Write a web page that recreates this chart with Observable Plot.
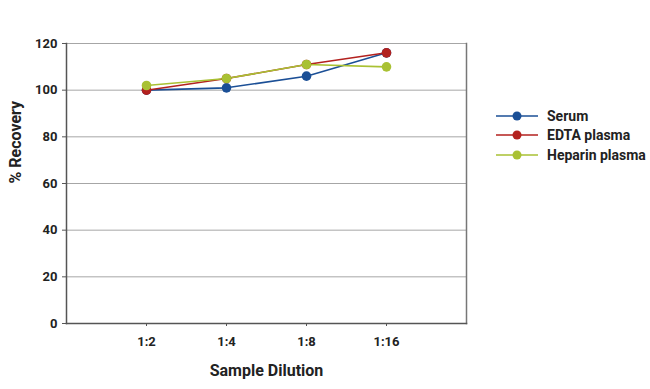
<!DOCTYPE html>
<html>
<head>
<meta charset="utf-8">
<script src="https://cdn.jsdelivr.net/npm/d3@7"></script>
<script src="https://cdn.jsdelivr.net/npm/@observablehq/plot@0.6"></script>
<style>
  body { margin: 0; background: #fff; }
  #wrap { position: relative; width: 650px; height: 389px; font-family: Roboto, sans-serif; font-weight: bold; }
  #legend { position: absolute; left: 496px; top: 106px; width: 154px; }
  .item { display: flex; align-items: center; height: 19.5px; font-size: 14px; color: #222; white-space: nowrap; }
  .item svg { margin-right: 9px; flex: none; }
</style>
</head>
<body>
<div id="wrap"><div id="legend"></div></div>
<script>
const dilutions = ["1:2", "1:4", "1:8", "1:16"];
const seriesNames = ["Serum", "EDTA plasma", "Heparin plasma"];
const serum = [100, 101, 106, 116];
const edta = [100, 105, 111, 116];
const heparin = [102, 105, 111, 110];
const colors = ["#1b4f96", "#b3211e", "#a9c133"];
const yTicks = [0, 20, 40, 60, 80, 100, 120];

const allValues = [serum, edta, heparin];
const data = [];
seriesNames.forEach((s, i) => dilutions.forEach((d, j) => data.push({series: s, dilution: d, value: allValues[i][j]})));

const chart = Plot.plot({
  width: 650,
  height: 389,
  marginLeft: 66,
  marginRight: 184,
  marginTop: 43,
  marginBottom: 66,
  style: {fontFamily: "Roboto, sans-serif", fontWeight: "bold", fontSize: "13px", color: "#222", background: "white"},
  x: {type: "point", domain: dilutions, padding: 1, label: null},
  y: {domain: [0, 120], ticks: yTicks, label: null},
  color: {domain: seriesNames, range: colors},
  marks: [
    Plot.ruleY(yTicks, {stroke: "#a6a6a6", strokeWidth: 1}),
    Plot.frame({anchor: "right", stroke: "#777", strokeWidth: 1.5}),
    Plot.axisY({ticks: yTicks, tickSize: 4, tickPadding: 5, stroke: "#555", fontSize: 13, label: null}),
    Plot.axisX({tickSize: 3, tickPadding: 10, stroke: "#555", fontSize: 13, label: null}),
    Plot.frame({anchor: "left", stroke: "#555", strokeWidth: 1.5}),
    Plot.frame({anchor: "bottom", stroke: "#555", strokeWidth: 1.5}),
    Plot.line(data, {x: "dilution", y: "value", stroke: "series", strokeWidth: 1.6}),
    Plot.dot(data, {x: "dilution", y: "value", fill: "series", r: 4.8}),
    Plot.text(["Sample Dilution"], {frameAnchor: "bottom", dy: 52, fontSize: 16, fill: "#222"}),
    Plot.text(["% Recovery"], {frameAnchor: "left", dx: -51, rotate: -90, fontSize: 16, fill: "#222"})
  ]
});
document.getElementById("wrap").prepend(chart);

const legend = d3.select("#legend");
seriesNames.forEach((s, i) => {
  const item = legend.append("div").attr("class", "item");
  const svg = item.append("svg").attr("width", 42).attr("height", 12);
  svg.append("line").attr("x1", 0).attr("x2", 42).attr("y1", 6).attr("y2", 6).attr("stroke", colors[i]).attr("stroke-width", 1.6);
  svg.append("circle").attr("cx", 21).attr("cy", 6).attr("r", 4.5).attr("fill", colors[i]);
  item.append("span").text(s);
});
</script>
</body>
</html>
